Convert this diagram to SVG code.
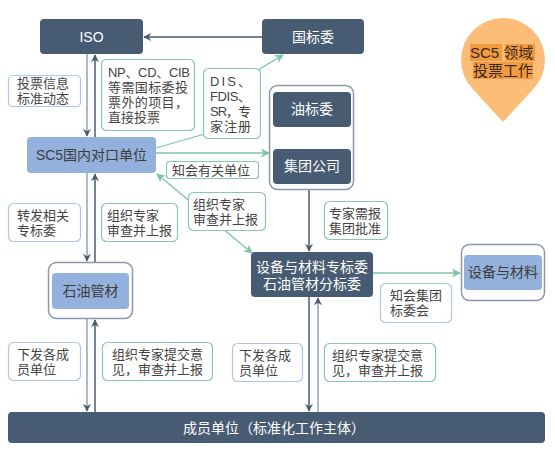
<svg xmlns="http://www.w3.org/2000/svg" width="555" height="451" viewBox="0 0 555 451">
<defs>
<style>
text{font-family:"Liberation Sans","Noto Sans CJK SC",sans-serif;}
.dk{fill:#475b73;}
.lb{fill:#93b1dc;}
.ob{fill:#fff;stroke:#8a97a8;stroke-width:1.5;}
.lg{fill:#fff;stroke:#86c9b0;stroke-width:1.2;}
.lbl{fill:#fff;stroke:#adc6ea;stroke-width:1.2;}
.wt{fill:#fff;font-size:14px;}
.dt{fill:#3d3d3d;font-size:14px;}
.lt{fill:#444;font-size:13px;}
.cd{stroke:#475b73;stroke-width:1.5;fill:none;}
.cl{stroke:#95a2b3;stroke-width:1.5;fill:none;}
.cg{stroke:#7cc4a8;stroke-width:1.3;fill:none;}
</style>
<marker id="ad" viewBox="0 0 10 10" refX="9" refY="5" markerWidth="8" markerHeight="8" markerUnits="userSpaceOnUse" orient="auto-start-reverse"><path d="M0,0 L10,5 L0,10 L3,5 z" fill="#475b73"/></marker>
<marker id="ag" viewBox="0 0 10 10" refX="9" refY="5" markerWidth="9" markerHeight="9" markerUnits="userSpaceOnUse" orient="auto-start-reverse"><path d="M0,0 L10,5 L0,10 L3,5 z" fill="#7cc4a8"/></marker>
</defs>
<rect width="555" height="451" fill="#fff"/>

<g id="connectors">
<line class="cd" x1="262" y1="37" x2="144" y2="37" marker-end="url(#ad)"/>
<line class="cl" x1="87" y1="54" x2="87" y2="136" marker-end="url(#ad)"/>
<line class="cd" x1="95" y1="137" x2="95" y2="55" marker-end="url(#ad)"/>
<polyline class="cg" points="156,148 215,131 258,70 283,55" marker-end="url(#ag)"/>
<line class="cg" x1="156" y1="153" x2="269" y2="153" marker-end="url(#ag)"/>
<line class="cg" x1="157" y1="174" x2="252" y2="253" marker-start="url(#ag)" marker-end="url(#ag)"/>
<line class="cl" x1="87" y1="173" x2="87" y2="261" marker-end="url(#ad)"/>
<line class="cd" x1="95" y1="262" x2="95" y2="174" marker-end="url(#ad)"/>
<line class="cl" x1="87" y1="319" x2="87" y2="411" marker-end="url(#ad)"/>
<line class="cd" x1="95" y1="412" x2="95" y2="320" marker-end="url(#ad)"/>
<line class="cd" x1="309" y1="190" x2="309" y2="251" marker-end="url(#ad)"/>
<line class="cg" x1="373" y1="273" x2="460" y2="273" marker-end="url(#ag)"/>
<line class="cd" x1="309" y1="297" x2="309" y2="411" marker-end="url(#ad)"/>
<line class="cl" x1="318" y1="412" x2="318" y2="298" marker-end="url(#ad)"/>
</g>

<g id="ISO"><rect class="dk" x="40" y="19" width="103" height="35" rx="4"/><text class="wt" x="91.5" y="42" text-anchor="middle" font-size="16">ISO</text></g>
<g id="guobiaowei"><rect class="dk" x="262" y="19" width="102" height="35" rx="4"/><text class="wt" x="313" y="42" text-anchor="middle">国标委</text></g>

<g id="pin">
<path d="M503,122 L473.3,89.7 A42,42 0 1 1 532.7,89.7 Z" fill="#fbbd78"/>
<rect x="470" y="44" width="32" height="17" fill="#f29a3f"/>
<rect x="505" y="44" width="30" height="17" fill="#f29a3f"/>
<rect x="473" y="62" width="60" height="17" fill="#f29a3f"/>
<text font-size="15" fill="#3a2a1a"><tspan x="470" y="58">SC5 领域</tspan><tspan x="473" y="76">投票工作</tspan></text>
</g>

<g id="SC5"><rect class="lb" x="27" y="137" width="129" height="36" rx="4"/><text class="dt" x="91.5" y="160" text-anchor="middle">SC5国内对口单位</text></g>

<g id="oilgroup">
<rect class="ob" x="269.5" y="85.5" width="84" height="104" rx="8"/>
<g id="youbiaowei"><rect class="dk" x="273" y="92" width="78" height="35" rx="4"/><text class="wt" x="312" y="114" text-anchor="middle">油标委</text></g>
<g id="jituan"><rect class="dk" x="273" y="149" width="78" height="35" rx="4"/><text class="wt" x="312" y="171" text-anchor="middle">集团公司</text></g>
</g>

<g id="zhuanbiaowei"><rect class="dk" x="251" y="252" width="122" height="45" rx="4"/>
<text class="wt" text-anchor="middle" font-size="13.5"><tspan x="312" y="272">设备与材料专标委</tspan><tspan x="312" y="289">石油管材分标委</tspan></text></g>

<g id="shebei"><rect class="ob" x="461.5" y="244.5" width="83" height="56" rx="8"/><rect class="lb" x="464" y="255" width="78" height="35" rx="4"/><text class="dt" x="503" y="277" text-anchor="middle" font-size="13.5">设备与材料</text></g>

<g id="shiyou"><rect class="ob" x="48.5" y="262.5" width="84" height="56" rx="8"/><rect class="lb" x="52" y="273" width="77" height="36" rx="4"/><text class="dt" x="90.5" y="296" text-anchor="middle" font-size="13.5">石油管材</text></g>

<g id="chengyuan"><rect class="dk" x="8" y="412" width="537" height="31" rx="4"/><text class="wt" x="274" y="433" text-anchor="middle">成员单位（标准化工作主体）</text></g>

<g id="labels">
<rect class="lbl" x="8.5" y="75.5" width="72" height="31" rx="4"/>
<text class="lt"><tspan x="17" y="88">投票信息</tspan><tspan x="17" y="103">标准动态</tspan></text>

<rect class="lg" x="101.5" y="59.5" width="93" height="71" rx="5"/>
<text class="lt"><tspan x="108" y="77" textLength="82">NP、CD、CIB</tspan><tspan x="108" y="92" textLength="80">等需国标委投</tspan><tspan x="108" y="107" textLength="80">票外的项目，</tspan><tspan x="108" y="122">直接投票</tspan></text>

<rect class="lg" x="203.5" y="68.5" width="57" height="70" rx="5"/>
<text class="lt" lengthAdjust="spacing"><tspan x="210" y="85.5" textLength="41">DIS、</tspan><tspan x="210" y="100.5" textLength="41">FDIS、</tspan><tspan x="210" y="115.5" textLength="41">SR，专</tspan><tspan x="210" y="130.5" textLength="41">家注册</tspan></text>

<rect class="lg" x="166.5" y="161.5" width="92" height="17" rx="3"/>
<text class="lt" x="172" y="174.5">知会有关单位</text>

<rect class="lg" x="188.5" y="192.5" width="77" height="38" rx="5"/>
<text class="lt"><tspan x="193" y="208.5">组织专家</tspan><tspan x="193" y="223.5">审查并上报</tspan></text>

<rect class="lg" x="324.5" y="201.5" width="63" height="38" rx="5"/>
<text class="lt"><tspan x="329" y="217.5">专家需报</tspan><tspan x="329" y="232.5">集团批准</tspan></text>

<rect class="lbl" x="8.5" y="203.5" width="72" height="38" rx="5"/>
<text class="lt"><tspan x="17" y="219.5">转发相关</tspan><tspan x="17" y="234.5">专标委</tspan></text>

<rect class="lg" x="101.5" y="203.5" width="76" height="38" rx="5"/>
<text class="lt"><tspan x="107" y="219.5">组织专家</tspan><tspan x="107" y="234.5">审查并上报</tspan></text>

<rect class="lbl" x="380.5" y="283.5" width="71" height="39" rx="5"/>
<text class="lt"><tspan x="390" y="300">知会集团</tspan><tspan x="390" y="315">标委会</tspan></text>

<rect class="lbl" x="8.5" y="342.5" width="72" height="38" rx="5"/>
<text class="lt"><tspan x="17" y="358.5">下发各成</tspan><tspan x="17" y="373.5">员单位</tspan></text>

<rect class="lg" x="102.5" y="342.5" width="110" height="38" rx="5"/>
<text class="lt"><tspan x="112" y="358.5">组织专家提交意</tspan><tspan x="112" y="373.5">见，审查并上报</tspan></text>

<rect class="lbl" x="232.5" y="343.5" width="70" height="38" rx="5"/>
<text class="lt"><tspan x="239" y="359.5">下发各成</tspan><tspan x="239" y="374.5">员单位</tspan></text>

<rect class="lg" x="324.5" y="343.5" width="111" height="38" rx="5"/>
<text class="lt"><tspan x="332" y="359.5">组织专家提交意</tspan><tspan x="332" y="374.5">见，审查并上报</tspan></text>
</g>
</svg>
